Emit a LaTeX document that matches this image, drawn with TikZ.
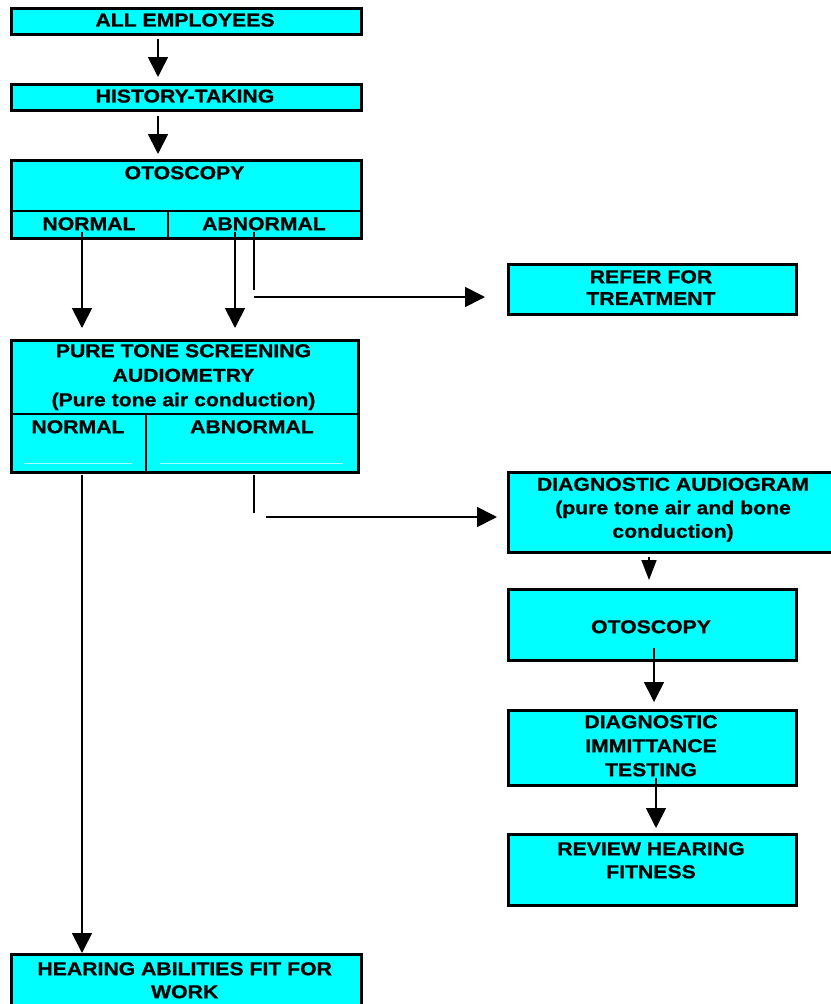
\documentclass[tikz,border=0pt]{standalone}
\usepackage{fontspec}
\setmainfont[FakeStretch=1.14, BoldFeatures={FakeBold=0.8}]{Liberation Sans}
\usetikzlibrary{arrows.meta}
\definecolor{boxcyan}{HTML}{00FFFF}
\tikzset{
  box/.style={draw=black, line width=2.6pt, fill=boxcyan, rectangle, inner sep=0pt, anchor=north west},
  txt/.style={font=\fontsize{18.6}{24.5}\selectfont\bfseries, align=center, inner sep=0pt, anchor=north},
  divider/.style={draw=black, line width=2.2pt},
  conn/.style={draw=black, line width=1.7pt},
  arr/.style={conn, -{Triangle[length=20pt,width=20pt]}},
  faint/.style={draw=boxcyan!35!white, line width=0.6pt}
}
\begin{document}
\begin{tikzpicture}[x=1pt,y=-1pt]
\useasboundingbox (0,0) rectangle (830,1004);
\fill[white] (0,0) rectangle (830,1004);

% boxes
\node[box, minimum width=350pt, minimum height=26pt] (b1) at (10,7) {};
\node[box, minimum width=350pt, minimum height=26pt] (b2) at (10,83) {};
\node[box, minimum width=350pt, minimum height=78pt] (b3) at (10,159) {};
\node[box, minimum width=288pt, minimum height=50pt] (refer) at (507,263) {};
\node[box, minimum width=347pt, minimum height=132pt] (pta) at (10,339) {};
\node[box, minimum width=335pt, minimum height=80pt] (diag) at (507,471) {};
\node[box, minimum width=288pt, minimum height=71pt] (oto) at (507,588) {};
\node[box, minimum width=288pt, minimum height=75pt] (imm) at (507,709) {};
\node[box, minimum width=288pt, minimum height=71pt] (review) at (507,833) {};
\node[box, minimum width=350pt, minimum height=70pt] (hear) at (10,953) {};

% dividers
\draw[divider] (b3.west |- 0,211) -- (b3.east |- 0,211);
\draw[divider] (168,211) -- (168,237);
\draw[divider] (pta.west |- 0,414) -- (pta.east |- 0,414);
\draw[divider] (146,414) -- (146,471);
\draw[faint] (24,463) -- (132,463);
\draw[faint] (160,463) -- (343,463);

% texts
\node[txt] (t1) at (185,13.3) {ALL EMPLOYEES};
\node[txt] (t2) at (185,89.3) {HISTORY-TAKING};
\node[txt] (t3) at (184.5,166) {OTOSCOPY};
\node[txt] (t3n) at (89,217) {NORMAL};
\node[txt] (t3a) at (264,217) {ABNORMAL};
\node[txt, font=\fontsize{18.6}{21.8}\selectfont\bfseries] (t4) at (651,270) {REFER FOR\\TREATMENT};
\node[txt] (t5) at (183.5,344) {PURE TONE SCREENING\\AUDIOMETRY\\(Pure tone air conduction)};
\node[txt] (t5n) at (78,420) {NORMAL};
\node[txt] (t5a) at (252,420) {ABNORMAL};
\node[txt, font=\fontsize{18.6}{23.5}\selectfont\bfseries] (t6) at (673,477.5) {DIAGNOSTIC AUDIOGRAM\\(pure tone air and bone\\conduction)};
\node[txt] (t7) at (651,620) {OTOSCOPY};
\node[txt, font=\fontsize{18.6}{24}\selectfont\bfseries] (t8) at (651,715) {DIAGNOSTIC\\IMMITTANCE\\TESTING};
\node[txt, font=\fontsize{18.6}{23}\selectfont\bfseries] (t9) at (651,842) {REVIEW HEARING\\FITNESS};
\node[txt, font=\fontsize{18.6}{23}\selectfont\bfseries] (t10) at (184.7,962) {HEARING ABILITIES FIT FOR\\WORK};

% connector coordinates
\coordinate (a1s) at (158,39);   \coordinate (a1e) at (158,77);
\coordinate (a2s) at (158,116);  \coordinate (a2e) at (158,154);
\coordinate (ons) at (82,232);   \coordinate (one) at (82,328);
\coordinate (oas) at (235,232);  \coordinate (oae) at (235,328);
\coordinate (ors) at (254,232);  \coordinate (orm) at (254,290);
\coordinate (orh) at (254,297);  \coordinate (ore) at (485,297);
\coordinate (pns) at (82,475);   \coordinate (pne) at (82,953);
\coordinate (pas) at (254,475);  \coordinate (pam) at (254,513);
\coordinate (pah) at (266,517);  \coordinate (pae) at (497,517);
\coordinate (dgs) at (649,557);  \coordinate (dge) at (649,580);
\coordinate (ots) at (654,648);  \coordinate (ote) at (654,702);
\coordinate (ims) at (656,778);  \coordinate (ime) at (656,828);

% connectors
\draw[arr] (a1s) -- (a1e);
\draw[arr] (a2s) -- (a2e);
\draw[arr] (ons) -- (one);
\draw[arr] (oas) -- (oae);
\draw[conn] (ors) -- (orm);
\draw[arr] (orh) -- (ore);
\draw[arr] (pns) -- (pne);
\draw[conn] (pas) -- (pam);
\draw[arr] (pah) -- (pae);
\draw[conn, -{Triangle[length=20pt,width=15pt]}] (dgs) -- (dge);
\draw[arr] (ots) -- (ote);
\draw[arr] (ims) -- (ime);
\end{tikzpicture}
\end{document}
